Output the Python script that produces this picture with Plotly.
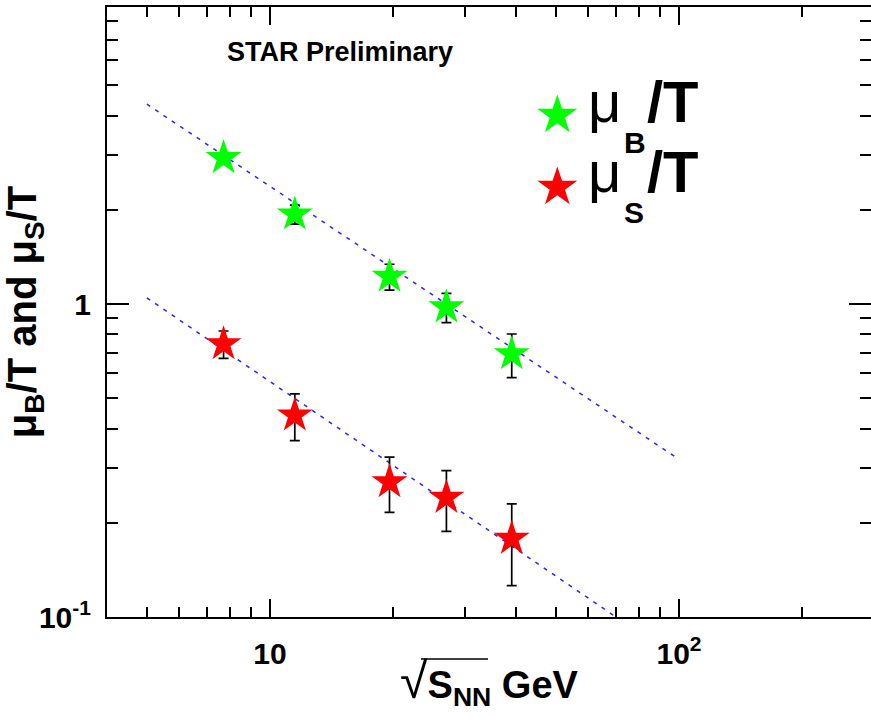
import plotly.graph_objects as go

# ---- data ----
energies = [7.7, 11.5, 19.6, 27.0, 39.0]
muB_T = [2.93, 1.935, 1.224, 0.977, 0.692]
muB_err = [0.10, 0.135, 0.116, 0.105, 0.11]
muS_T = [0.745, 0.441, 0.270, 0.2407, 0.178]
muS_err = [0.075, 0.075, 0.054, 0.053, 0.052]

fit_x = [5.0, 100.0]
fitB_y = [4.35, 0.319]
fitS_y = [1.047, 0.073]

x_tickvals = [10, 100]
x_ticktext = ["10", "10<sup>2</sup>"]
x_minor = [5, 6, 7, 8, 9, 20, 30, 40, 50, 60, 70, 80, 90, 200]
y_tickvals = [0.1, 1]
y_ticktext = ["10<sup>-1</sup>", "1"]
y_minor = [0.2, 0.3, 0.4, 0.5, 0.6, 0.7, 0.8, 0.9, 2, 3, 4, 5, 6, 7, 8]

FONT = "Liberation Sans"
W, H = 871, 717
L, R, T, B = 107, 0, 7, 100
PW, PH = W - L - R, H - T - B


def px(xpix):
    return (xpix - L) / PW


def py(ypix):
    return (H - B - ypix) / PH


fig = go.Figure()

for fy in (fitB_y, fitS_y):
    fig.add_trace(go.Scatter(x=fit_x, y=fy, mode="lines",
                             line=dict(color="#2525ff", width=1.5, dash="4px,6px"),
                             showlegend=False, hoverinfo="skip"))

fig.add_trace(go.Scatter(x=energies, y=muB_T, mode="markers", name="μB/T",
                         marker=dict(symbol="star", size=27, color="#00ff00",
                                     line=dict(width=0)),
                         error_y=dict(type="data", array=muB_err, visible=True,
                                      color="black", thickness=1.7, width=5),
                         showlegend=False))
fig.add_trace(go.Scatter(x=energies, y=muS_T, mode="markers", name="μS/T",
                         marker=dict(symbol="star", size=27, color="#ff0000",
                                     line=dict(width=0)),
                         error_y=dict(type="data", array=muS_err, visible=True,
                                      color="black", thickness=1.7, width=5),
                         showlegend=False))

axis_common = dict(
    type="log", showgrid=False, zeroline=False, automargin=False,
    showline=True, linecolor="black", linewidth=2,
    mirror="allticks", ticks="inside", tickcolor="black", tickwidth=1.6,
    tickmode="array",
    tickfont=dict(family=FONT, size=30, color="black", weight="bold"),
)

fig.update_xaxes(
    **axis_common,
    range=[0.6015, 2.4695],
    tickvals=x_tickvals, ticktext=x_ticktext, ticklen=18,
    ticklabelstandoff=9,
    minor=dict(tickmode="array", tickvals=x_minor, ticks="inside",
               ticklen=10, tickcolor="black", tickwidth=1.6),
    title=dict(
        text="<span style='font-size:50px;font-weight:normal'>√</span>"
             "S<sub>NN</sub> GeV",
        font=dict(family=FONT, size=38, color="black", weight="bold"), standoff=2),
)
fig.update_yaxes(
    **axis_common,
    range=[-1, 0.949],
    tickvals=y_tickvals, ticktext=y_ticktext, ticklen=22,
    ticklabelstandoff=8,
    minor=dict(tickmode="array", tickvals=y_minor, ticks="inside",
               ticklen=11, tickcolor="black", tickwidth=1.6),
    title=dict(text="μ<sub>B</sub>/T and μ<sub>S</sub>/T",
               font=dict(family=FONT, size=40, color="black", weight="bold"), standoff=6),
)

ann = []
ann.append(dict(text="<b>STAR Preliminary</b>", x=px(225), y=py(52), xref="paper",
                yref="paper", xanchor="left", yanchor="middle", showarrow=False,
                font=dict(family=FONT, size=27, color="black")))

for ypos_star, ybase, color, sub in [(114, 122, "#00ff00", "B"), (186, 192, "#ff0000", "S")]:
    ann.append(dict(text="★", x=px(557), y=py(ypos_star), xref="paper", yref="paper",
                    xanchor="center", yanchor="middle", showarrow=False,
                    font=dict(family="DejaVu Sans", size=52, color=color)))
    ann.append(dict(text="μ", x=px(586), y=py(ybase - 0.3465 * 58), xref="paper",
                    yref="paper", xanchor="left", yanchor="middle", showarrow=False,
                    font=dict(family=FONT, size=58, color="black")))
    ann.append(dict(text="<b>/T</b>", x=px(645), y=py(ybase - 0.3465 * 58), xref="paper",
                    yref="paper", xanchor="left", yanchor="middle", showarrow=False,
                    font=dict(family=FONT, size=58, color="black")))
    ann.append(dict(text="<b>%s</b>" % sub, x=px(622), y=py(ybase + 31 - 0.3465 * 30),
                    xref="paper", yref="paper", xanchor="left", yanchor="middle",
                    showarrow=False, font=dict(family=FONT, size=30, color="black")))

# overline of the square-root sign in the x-axis title
shapes = [dict(type="line", xref="paper", yref="paper", x0=px(421), x1=px(488),
               y0=py(659), y1=py(659), line=dict(color="black", width=1.5))]

fig.update_layout(
    width=W, height=H,
    margin=dict(l=L, r=R, t=T, b=B, pad=0),
    paper_bgcolor="white", plot_bgcolor="white",
    annotations=ann, shapes=shapes, showlegend=False,
)

fig.write_html(
    "out.html",
    config={"displayModeBar": False},
    post_script="document.body.style.margin='0';document.body.style.overflow='hidden';",
)
